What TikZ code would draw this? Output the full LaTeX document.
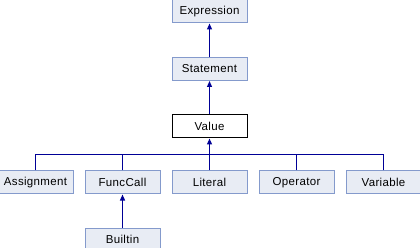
\documentclass[tikz,border=0pt]{standalone}
\usepackage{fontspec}
\setmainfont[LetterSpace=3]{Liberation Sans}
\usetikzlibrary{positioning, arrows.meta}

\definecolor{boxfill}{RGB}{232,236,244}
\definecolor{boxline}{RGB}{132,154,204}
\definecolor{edgeblue}{RGB}{0,0,150}

\begin{document}
\begin{tikzpicture}[
    class/.style={draw=boxline, fill=boxfill, line width=1pt, minimum width=75pt,
        minimum height=23pt, inner sep=0pt, font=\fontsize{11.5}{13}\selectfont},
    current/.style={class, draw=black, fill=white},
    edge/.style={draw=edgeblue, line width=1.2pt},
    inherit/.style={edge, -{Triangle[width=5pt,length=6pt]}},
    node distance=33pt and 11pt]
    \useasboundingbox (0,0) rectangle (420pt,-248pt);
    % base classes
    \node[class] (expression) at (209.5pt,-11.5pt) {Expression};
    \node[class, below=33.5pt of expression] (statement) {Statement};
    \node[current, below=33.5pt of statement] (value) {Value};
    % derived from Value
    \node[class, below=32pt of value] (literal) {Literal};
    \node[class, left=of literal] (funccall) {FuncCall};
    \node[class, left=of funccall] (assignment) {Assignment};
    \node[class, right=of literal] (operator) {Operator};
    \node[class, right=of operator] (variable) {Variable};
    \node[class, below=of funccall] (builtin) {Builtin};

    \draw[inherit] (statement) -- (expression);
    \draw[inherit] (value) -- (statement);
    \coordinate[above=16pt of literal.north] (bar);
    \foreach \n in {assignment,funccall,operator,variable}
        \draw[edge] (\n.north) |- (bar);
    \draw[inherit] (literal.north) -- (value.south);
    \draw[inherit] (builtin) -- (funccall);
\end{tikzpicture}
\end{document}
